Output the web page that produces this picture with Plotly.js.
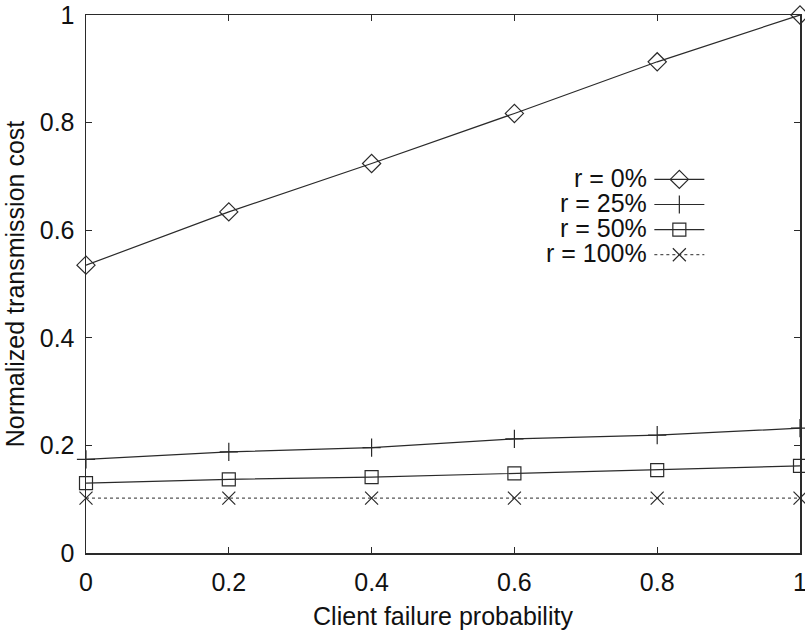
<!DOCTYPE html>
<html>
<head>
<meta charset="utf-8">
<script src="https://cdn.plot.ly/plotly-3.0.1.min.js"></script>
<style>html,body{margin:0;padding:0;background:#fff;}#chart{width:805px;height:636px;}</style>
</head>
<body>
<div id="chart"></div>
<script>
const xValues = [0, 0.2, 0.4, 0.6, 0.8, 1];
const r0 = [0.535, 0.634, 0.724, 0.817, 0.913, 1.0];
const r25 = [0.174, 0.188, 0.196, 0.212, 0.219, 0.232];
const r50 = [0.130, 0.137, 0.141, 0.148, 0.154, 0.162];
const r100 = [0.102, 0.102, 0.102, 0.102, 0.102, 0.102];
const seriesNames = ['r = 0%', 'r = 25%', 'r = 50%', 'r = 100%'];
const xTicks = [0, 0.2, 0.4, 0.6, 0.8, 1];
const xTickText = ['0', '0.2', '0.4', '0.6', '0.8', '1'];
const yTicks = [0, 0.2, 0.4, 0.6, 0.8, 1];
const yTickText = ['0', '0.2', '0.4', '0.6', '0.8', '1'];

const FONT = 'Liberation Sans, Arial, Helvetica, sans-serif';
const INK = '#2a2a2a';

const styles = [
  {sym: 'diamond-open', size: 14, dash: 'solid', lc: INK},
  {sym: 'cross-thin-open', size: 13, dash: 'solid', lc: INK},
  {sym: 'square-open', size: 13, dash: 'solid', lc: INK},
  {sym: 'x-thin-open', size: 13, dash: 'dot', lc: '#555'}
];
const ys = [r0, r25, r50, r100];

// Legend rows show only the symbols; the labels are drawn as text to their left (gnuplot style).
const traces = ys.map((y, i) => ({
  x: xValues, y: y, name: ' ', meta: seriesNames[i], type: 'scatter', mode: 'lines+markers',
  line: {color: styles[i].lc, width: 1.2, dash: styles[i].dash},
  marker: {symbol: styles[i].sym, size: styles[i].size, color: INK, line: {color: INK, width: 1.2}},
  cliponaxis: false
}));

const legendY = [0.697, 0.651, 0.604, 0.558];
const annotations = seriesNames.map((n, i) => ({
  xref: 'paper', yref: 'paper', x: 0.788, y: legendY[i], xanchor: 'right', yanchor: 'middle',
  text: n, showarrow: false, font: {family: FONT, size: 25, color: '#111'}
}));

const layout = {
  width: 805, height: 636,
  margin: {l: 86, r: 5, t: 15, b: 83},
  paper_bgcolor: '#fff', plot_bgcolor: '#fff',
  font: {family: FONT, color: '#111'},
  showlegend: true,
  legend: {
    x: 0.789, y: 0.727, xanchor: 'left', yanchor: 'top',
    bgcolor: 'rgba(0,0,0,0)', borderwidth: 0,
    font: {family: FONT, size: 17, color: 'rgba(0,0,0,0)'},
    itemwidth: 50, tracegroupgap: 0
  },
  xaxis: {
    range: [0, 1], tickvals: xTicks, ticktext: xTickText,
    ticks: 'inside', ticklen: 6, tickcolor: INK, showline: true, linecolor: INK, linewidth: 1.5,
    mirror: 'ticks', showgrid: false, zeroline: false,
    tickfont: {family: FONT, size: 25, color: '#111'}, ticklabelstandoff: 6,
    ticklabeloverflow: 'allow',
    title: {text: 'Client failure probability', font: {family: FONT, size: 25, color: '#111'}, standoff: 13}
  },
  yaxis: {
    range: [0, 1], tickvals: yTicks, ticktext: yTickText,
    ticks: 'inside', ticklen: 6, tickcolor: INK, showline: true, linecolor: INK, linewidth: 1.5,
    mirror: 'ticks', showgrid: false, zeroline: false,
    tickfont: {family: FONT, size: 25, color: '#111'}, ticklabelstandoff: 5,
    ticklabeloverflow: 'allow',
    title: {text: 'Normalized transmission cost', font: {family: FONT, size: 25, color: '#111'}, standoff: 8}
  },
  annotations: annotations
};

Plotly.newPlot('chart', traces, layout, {displayModeBar: false, staticPlot: true});
</script>
</body>
</html>
